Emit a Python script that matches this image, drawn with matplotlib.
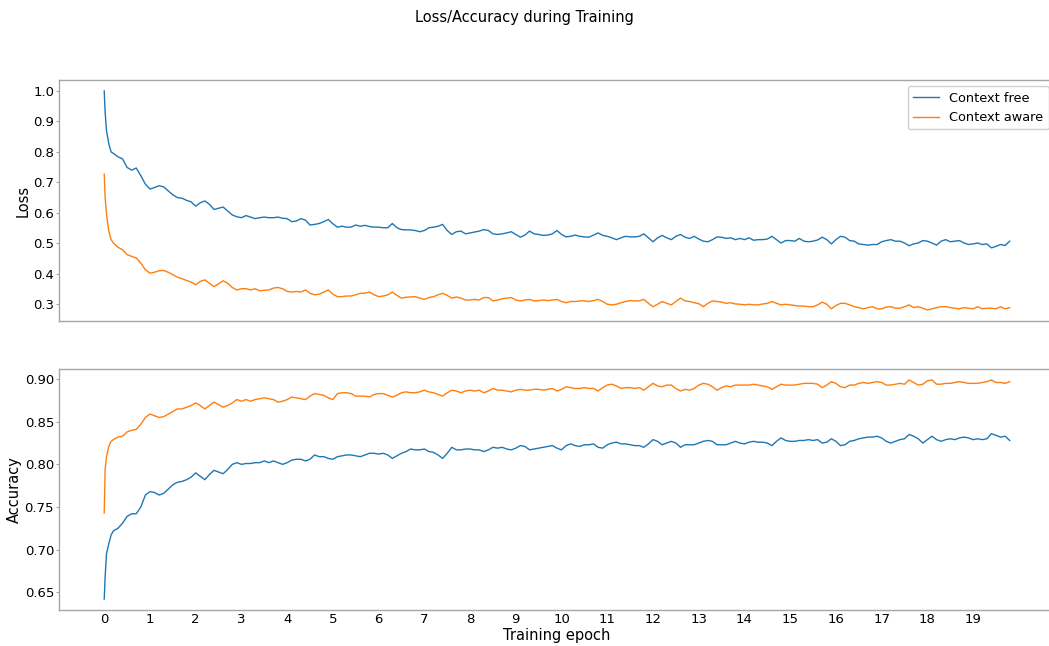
import matplotlib

matplotlib.use("Agg")
import matplotlib.pyplot as plt
import numpy as np

# Точки по эпохам: сначала плотнее (крутой спад), дальше шаг 0.1
epochs = np.concatenate([[0, 0.02, 0.05, 0.1, 0.15], np.round(np.arange(2, 199) / 10, 1)])
epoch_ticks = list(range(20))

# Loss, context free
loss_free = [
    1.000, 0.930, 0.870, 0.826, 0.800, 0.795, 0.784, 0.777, 0.749, 0.740, 0.747, 0.722, 0.694,
    0.678, 0.683, 0.689, 0.685, 0.672, 0.659, 0.650, 0.648, 0.641, 0.636,
    0.622, 0.633, 0.639, 0.628, 0.611, 0.615, 0.619, 0.606, 0.593, 0.587,
    0.584, 0.591, 0.586, 0.581, 0.584, 0.586, 0.584, 0.584, 0.586, 0.582,
    0.581, 0.571, 0.573, 0.581, 0.576, 0.560, 0.562, 0.565, 0.571, 0.578,
    0.564, 0.553, 0.556, 0.553, 0.553, 0.560, 0.556, 0.559, 0.555, 0.553,
    0.553, 0.551, 0.551, 0.565, 0.551, 0.545, 0.544, 0.544, 0.542, 0.538,
    0.542, 0.551, 0.553, 0.556, 0.562, 0.542, 0.529, 0.538, 0.540, 0.531,
    0.534, 0.537, 0.540, 0.545, 0.542, 0.531, 0.529, 0.531, 0.534, 0.538,
    0.529, 0.520, 0.527, 0.540, 0.531, 0.529, 0.526, 0.527, 0.531, 0.542,
    0.529, 0.521, 0.523, 0.527, 0.523, 0.521, 0.520, 0.527, 0.534, 0.526,
    0.523, 0.518, 0.512, 0.518, 0.523, 0.521, 0.521, 0.523, 0.531, 0.518,
    0.505, 0.518, 0.526, 0.518, 0.512, 0.523, 0.529, 0.520, 0.516, 0.523,
    0.514, 0.507, 0.505, 0.512, 0.521, 0.520, 0.516, 0.518, 0.512, 0.516,
    0.512, 0.518, 0.510, 0.512, 0.512, 0.514, 0.523, 0.512, 0.501, 0.509,
    0.509, 0.507, 0.516, 0.507, 0.505, 0.507, 0.511, 0.520, 0.512, 0.498,
    0.512, 0.523, 0.520, 0.509, 0.507, 0.498, 0.496, 0.494, 0.496, 0.496,
    0.505, 0.509, 0.512, 0.507, 0.507, 0.501, 0.492, 0.498, 0.501, 0.509,
    0.507, 0.501, 0.494, 0.507, 0.512, 0.505, 0.507, 0.509, 0.501, 0.496,
    0.498, 0.501, 0.496, 0.498, 0.485, 0.490, 0.496, 0.493, 0.507,
]

# Loss, context aware
loss_aware = [
    0.727, 0.650, 0.595, 0.540, 0.512, 0.501, 0.487, 0.479, 0.463, 0.457, 0.452, 0.435, 0.413,
    0.402, 0.405, 0.410, 0.411, 0.405, 0.397, 0.389, 0.384, 0.378, 0.373,
    0.364, 0.375, 0.380, 0.369, 0.358, 0.367, 0.377, 0.369, 0.355, 0.347,
    0.351, 0.351, 0.347, 0.351, 0.344, 0.346, 0.347, 0.353, 0.355, 0.351,
    0.342, 0.340, 0.342, 0.340, 0.347, 0.336, 0.331, 0.333, 0.340, 0.347,
    0.333, 0.325, 0.325, 0.327, 0.327, 0.331, 0.336, 0.336, 0.340, 0.331,
    0.325, 0.327, 0.331, 0.340, 0.329, 0.320, 0.323, 0.324, 0.325, 0.320,
    0.316, 0.322, 0.325, 0.331, 0.336, 0.329, 0.320, 0.324, 0.320, 0.314,
    0.314, 0.316, 0.314, 0.322, 0.322, 0.311, 0.314, 0.318, 0.320, 0.322,
    0.314, 0.311, 0.314, 0.316, 0.311, 0.312, 0.314, 0.312, 0.314, 0.316,
    0.309, 0.305, 0.309, 0.309, 0.311, 0.311, 0.309, 0.312, 0.316, 0.309,
    0.300, 0.298, 0.300, 0.305, 0.309, 0.312, 0.311, 0.311, 0.316, 0.303,
    0.292, 0.300, 0.309, 0.303, 0.298, 0.309, 0.320, 0.311, 0.309, 0.305,
    0.302, 0.292, 0.303, 0.311, 0.309, 0.307, 0.303, 0.305, 0.301, 0.300,
    0.298, 0.300, 0.298, 0.298, 0.301, 0.303, 0.309, 0.303, 0.298, 0.300,
    0.298, 0.296, 0.294, 0.294, 0.292, 0.292, 0.298, 0.307, 0.300, 0.285,
    0.296, 0.303, 0.303, 0.298, 0.292, 0.289, 0.285, 0.289, 0.292, 0.285,
    0.285, 0.291, 0.292, 0.287, 0.287, 0.292, 0.298, 0.289, 0.292, 0.287,
    0.281, 0.285, 0.289, 0.292, 0.292, 0.289, 0.287, 0.285, 0.289, 0.287,
    0.285, 0.292, 0.285, 0.287, 0.287, 0.285, 0.292, 0.285, 0.289,
]

# Accuracy, context free
acc_free = [
    0.642, 0.668, 0.695, 0.707, 0.717, 0.722, 0.725, 0.731, 0.739, 0.742, 0.742, 0.750, 0.764,
    0.768, 0.767, 0.764, 0.766, 0.771, 0.776, 0.779, 0.780, 0.782, 0.785,
    0.790, 0.786, 0.782, 0.788, 0.793, 0.791, 0.789, 0.794, 0.800, 0.802,
    0.800, 0.801, 0.801, 0.802, 0.802, 0.804, 0.802, 0.804, 0.802, 0.800,
    0.802, 0.805, 0.806, 0.806, 0.804, 0.806, 0.811, 0.809, 0.809, 0.807,
    0.806, 0.809, 0.810, 0.811, 0.811, 0.810, 0.809, 0.811, 0.813, 0.813,
    0.812, 0.813, 0.811, 0.807, 0.810, 0.813, 0.815, 0.818, 0.817, 0.817,
    0.818, 0.815, 0.814, 0.811, 0.807, 0.813, 0.820, 0.817, 0.817, 0.818,
    0.818, 0.817, 0.817, 0.815, 0.817, 0.820, 0.819, 0.820, 0.818, 0.817,
    0.819, 0.822, 0.821, 0.817, 0.818, 0.819, 0.820, 0.821, 0.822, 0.819,
    0.817, 0.822, 0.824, 0.822, 0.821, 0.823, 0.823, 0.824, 0.820, 0.819,
    0.823, 0.825, 0.826, 0.824, 0.824, 0.823, 0.822, 0.822, 0.820, 0.824,
    0.829, 0.827, 0.823, 0.825, 0.827, 0.825, 0.820, 0.823, 0.823, 0.823,
    0.825, 0.827, 0.828, 0.827, 0.823, 0.823, 0.823, 0.825, 0.827, 0.825,
    0.824, 0.826, 0.827, 0.826, 0.826, 0.825, 0.822, 0.827, 0.831, 0.828,
    0.827, 0.827, 0.828, 0.828, 0.829, 0.828, 0.829, 0.825, 0.826, 0.830,
    0.827, 0.822, 0.823, 0.827, 0.828, 0.830, 0.831, 0.832, 0.832, 0.833,
    0.831, 0.827, 0.825, 0.827, 0.829, 0.830, 0.835, 0.833, 0.830, 0.825,
    0.829, 0.833, 0.829, 0.827, 0.829, 0.830, 0.829, 0.831, 0.832, 0.831,
    0.829, 0.830, 0.829, 0.830, 0.836, 0.834, 0.832, 0.833, 0.828,
]

# Accuracy, context aware
acc_aware = [
    0.743, 0.794, 0.809, 0.821, 0.827, 0.829, 0.832, 0.833, 0.838, 0.840, 0.841, 0.847, 0.855,
    0.859, 0.857, 0.855, 0.856, 0.859, 0.862, 0.865, 0.865, 0.867, 0.869,
    0.872, 0.869, 0.865, 0.869, 0.873, 0.870, 0.867, 0.869, 0.872, 0.876,
    0.874, 0.876, 0.874, 0.876, 0.877, 0.878, 0.877, 0.876, 0.873, 0.874,
    0.876, 0.879, 0.878, 0.877, 0.876, 0.880, 0.883, 0.882, 0.881, 0.878,
    0.876, 0.883, 0.884, 0.884, 0.883, 0.880, 0.880, 0.880, 0.879, 0.882,
    0.883, 0.883, 0.881, 0.879, 0.881, 0.884, 0.885, 0.884, 0.884, 0.885,
    0.887, 0.885, 0.884, 0.882, 0.880, 0.884, 0.887, 0.886, 0.884, 0.886,
    0.887, 0.886, 0.887, 0.884, 0.886, 0.889, 0.887, 0.887, 0.886, 0.885,
    0.887, 0.888, 0.887, 0.887, 0.888, 0.888, 0.887, 0.888, 0.889, 0.886,
    0.888, 0.891, 0.890, 0.889, 0.889, 0.890, 0.889, 0.889, 0.886, 0.890,
    0.893, 0.894, 0.892, 0.889, 0.890, 0.890, 0.889, 0.890, 0.887, 0.891,
    0.895, 0.892, 0.891, 0.893, 0.893, 0.889, 0.886, 0.888, 0.887, 0.889,
    0.893, 0.895, 0.894, 0.891, 0.887, 0.890, 0.892, 0.891, 0.893, 0.893,
    0.893, 0.893, 0.894, 0.893, 0.892, 0.891, 0.888, 0.891, 0.894, 0.893,
    0.893, 0.893, 0.894, 0.895, 0.895, 0.895, 0.894, 0.890, 0.893, 0.897,
    0.895, 0.891, 0.890, 0.893, 0.893, 0.895, 0.896, 0.895, 0.896, 0.897,
    0.896, 0.893, 0.893, 0.894, 0.895, 0.894, 0.899, 0.896, 0.893, 0.894,
    0.898, 0.899, 0.894, 0.894, 0.895, 0.895, 0.896, 0.897, 0.896, 0.895,
    0.895, 0.895, 0.896, 0.897, 0.899, 0.896, 0.896, 0.895, 0.897,
]

labels = ["Context free", "Context aware"]
colors = ["#1f77b4", "#ff7f0e"]
spine_color = "#a6a6a6"

fig = plt.figure(figsize=(10.49, 6.46), dpi=100)
ax1 = fig.add_axes([0.0562, 0.5031, 0.9495, 0.3731])
ax2 = fig.add_axes([0.0562, 0.0557, 0.9495, 0.3731], sharex=ax1)

ax1.plot(epochs, loss_free, color=colors[0], lw=1.0, label=labels[0])
ax1.plot(epochs, loss_aware, color=colors[1], lw=1.0, label=labels[1])
ax2.plot(epochs, acc_free, color=colors[0], lw=1.0)
ax2.plot(epochs, acc_aware, color=colors[1], lw=1.0)

ax1.set_ylabel("Loss", fontsize=10.5, labelpad=2)
ax2.set_ylabel("Accuracy", fontsize=10.5, labelpad=2)
ax2.set_xlabel("Training epoch", fontsize=10.5, labelpad=1)
ax2.set_xticks(epoch_ticks)
ax1.tick_params(axis="x", labelbottom=False)

for ax in (ax1, ax2):
    for s in ax.spines.values():
        s.set_color(spine_color)
        s.set_linewidth(1.0)
    ax.tick_params(axis="y", length=2.5, width=0.8, color=spine_color, pad=1, labelsize=9.5)
    ax.tick_params(axis="x", length=0, pad=2.5, labelsize=9.5)

leg = ax1.legend(loc="upper right", fontsize=9.3, framealpha=1)
leg.get_frame().set_edgecolor("#d0d0d0")

fig.suptitle("Loss/Accuracy during Training", fontsize=10.5, y=0.985, va="top")

fig.savefig("out.png", dpi=100)
